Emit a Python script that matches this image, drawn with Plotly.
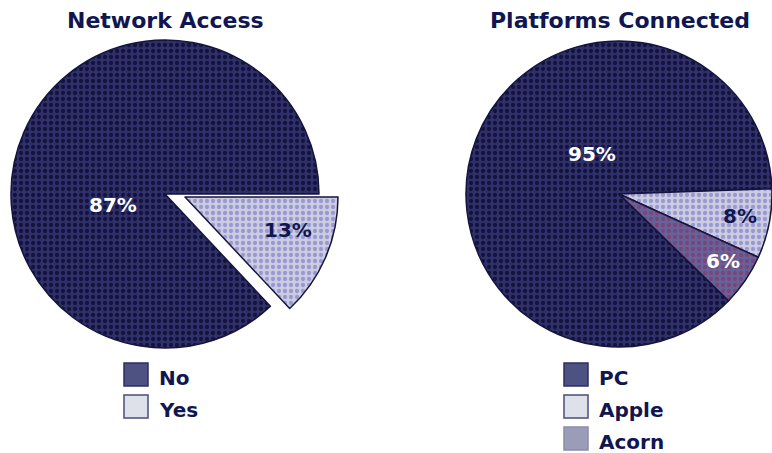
import plotly.graph_objects as go

# ---- data ----
access_labels = ["No", "Yes"]
access_values = [87, 13]

platform_labels = ["PC", "Apple", "Acorn"]
platform_values = [95, 8, 6]

titles = ["Network Access", "Platforms Connected"]

# ---- styling ----
W, H = 772, 453
FONT = "DejaVu Sans"
NAVY = "#0f1650"
EDGE = "#14143c"
CLEAR = "rgba(0,0,0,0)"

slice_bg = {"No": "#30306a", "Yes": "#cdcddf",
            "PC": "#30306a", "Apple": "#cdcddf", "Acorn": "#64649c"}
slice_fg = {"No": "#14123e", "Yes": "#9898d6",
            "PC": "#14123e", "Apple": "#9898d6", "Acorn": "#7d4479"}
swatch_fill = {"No": "#4e5283", "Yes": "#dee0ea",
               "PC": "#4e5283", "Apple": "#dee0ea", "Acorn": "#9a9cb8"}
swatch_line = {"No": "#2c2f5e", "Yes": "#4a4d7c",
               "PC": "#2c2f5e", "Apple": "#4a4d7c", "Acorn": "#8a8ca8"}
label_color = {"No": "white", "Yes": NAVY,
               "PC": "white", "Apple": NAVY, "Acorn": "white"}


def domain(cx, cy, r, xmax=None):
    """Pie domain (paper fractions) for a centre/radius in pixels."""
    x0, x1 = cx - r, cx + r
    if xmax is not None:
        x1 = min(x1, xmax)
    return dict(x=[max(x0, 0) / W, x1 / W],
                y=[1 - (cy + r) / H, 1 - (cy - r) / H])


def pie(labels, values, shown, dom, rotation):
    """One pie trace; slices not in `shown` are left transparent."""
    bg = [slice_bg[l] if l in shown else CLEAR for l in labels]
    fg = [slice_fg[l] if l in shown else CLEAR for l in labels]
    shapes = ["." if l in shown else "" for l in labels]
    widths = [1.5 if l in shown else 0 for l in labels]
    return go.Pie(
        labels=labels, values=values, sort=False, direction="clockwise",
        rotation=rotation, domain=dom, textinfo="none", hoverinfo="label+value",
        showlegend=False,
        marker=dict(colors=bg, line=dict(color=EDGE, width=widths),
                    pattern=dict(shape=shapes, fgcolor=fg, bgcolor=bg,
                                 size=6, solidity=0.4)),
    )


fig = go.Figure()

# Network Access: "Yes" slice drawn separately, offset from the rest
rot_access = 90 + 360 * access_values[1] / sum(access_values)
fig.add_trace(pie(access_labels, access_values, {"No"},
                  domain(165, 194, 154), rot_access))
fig.add_trace(pie(access_labels, access_values, {"Yes"},
                  domain(185, 197, 153), rot_access))

# Platforms Connected
rot_plat = 90 + 360 * (platform_values[1] + platform_values[2]) / sum(platform_values) - 2
fig.add_trace(pie(platform_labels, platform_values, set(platform_labels),
                  domain(619, 194, 153, xmax=W), rot_plat))

annotations = []
shapes = []


def px(x, y):
    return x / W, 1 - y / H


# titles
for t, x in zip(titles, [165, 620]):
    ax, ay = px(x, 20)
    annotations.append(dict(text=f"<b>{t}</b>", x=ax, y=ay, xref="paper", yref="paper",
                            showarrow=False, font=dict(family=FONT, size=22, color=NAVY),
                            xanchor="center", yanchor="middle"))

# slice value labels
label_pos = {"No": (113, 205), "Yes": (288, 230),
             "PC": (592, 154), "Apple": (740, 216), "Acorn": (723, 261)}
for labels, values in [(access_labels, access_values), (platform_labels, platform_values)]:
    for l, v in zip(labels, values):
        ax, ay = px(*label_pos[l])
        annotations.append(dict(text=f"<b>{v}%</b>", x=ax, y=ay, xref="paper", yref="paper",
                                showarrow=False,
                                font=dict(family=FONT, size=20, color=label_color[l]),
                                xanchor="center", yanchor="middle"))

# legends
for labels, sx in [(access_labels, 124), (platform_labels, 564)]:
    for i, l in enumerate(labels):
        top = 363 + 32 * i
        shapes.append(dict(type="rect", xref="paper", yref="paper",
                           x0=sx / W, x1=(sx + 24) / W,
                           y0=1 - (top + 23) / H, y1=1 - top / H,
                           fillcolor=swatch_fill[l],
                           line=dict(color=swatch_line[l], width=1.5)))
        ax, ay = px(sx + 33, top + 15)
        annotations.append(dict(text=f"<b>{l}</b>", x=ax, y=ay, xref="paper", yref="paper",
                                showarrow=False, font=dict(family=FONT, size=20, color=NAVY),
                                xanchor="left", yanchor="middle"))

fig.update_layout(
    width=W, height=H, margin=dict(l=0, r=0, t=0, b=0),
    paper_bgcolor="white", plot_bgcolor="white",
    annotations=annotations, shapes=shapes,
)

fig.write_html("out.html")
